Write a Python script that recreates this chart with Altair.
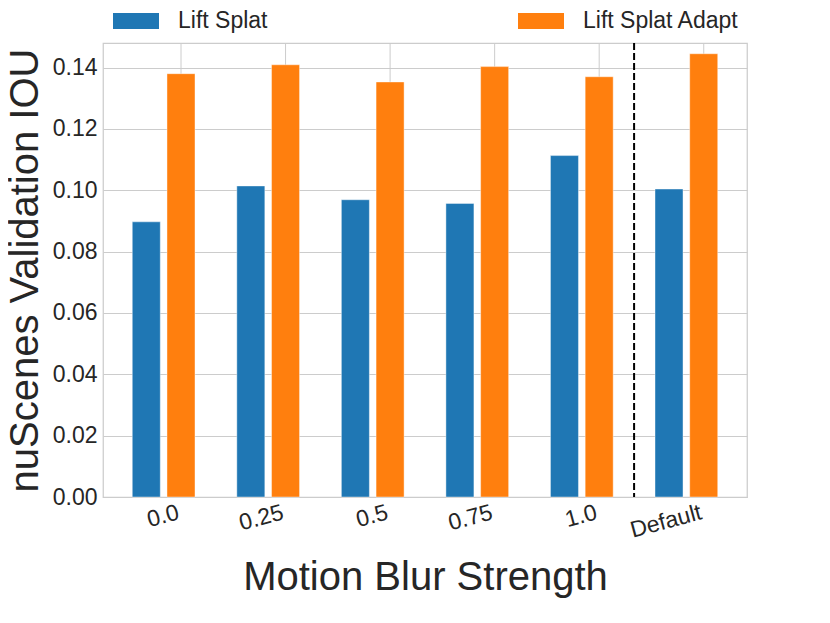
import altair as alt
import pandas as pd

categories = ["0.0", "0.25", "0.5", "0.75", "1.0", "Default"]
series = ["Lift Splat", "Lift Splat Adapt"]
lift_splat = [0.0897, 0.1014, 0.0969, 0.0957, 0.1113, 0.1004]
lift_splat_adapt = [0.1380, 0.1409, 0.1353, 0.1403, 0.1370, 0.1445]
y_ticks = [0.0, 0.02, 0.04, 0.06, 0.08, 0.10, 0.12, 0.14]
colors = ["#1f77b4", "#ff7f0e"]
divider_at = ["Default"]

rows = []
for c, a, b in zip(categories, lift_splat, lift_splat_adapt):
    rows.append({"strength": c, "model": series[0], "iou": a})
    rows.append({"strength": c, "model": series[1], "iou": b})
df = pd.DataFrame(rows)
div = pd.DataFrame({"strength": divider_at})
grid_df = pd.DataFrame({"strength": categories})

FONT = "Liberation Sans"
TXT = "#262626"
W, H = 644, 454
P_IN, P_OUT = 0.4, 0.28
STEP = W / (len(categories) - P_IN + 2 * P_OUT)

x_scale = alt.Scale(domain=categories, paddingInner=P_IN, paddingOuter=P_OUT)
x_axis = alt.Axis(
    grid=False, ticks=False, tickSize=0, domain=False,
    labelAngle=345, labelAlign="right", labelBaseline="top", labelPadding=4,
    labelOffset=12, labelFontSize=23, titleFontSize=40, titleFontWeight="normal",
    titleX=W / 2, titleY=92, titleBaseline="alphabetic", titleAlign="center",
)
x_enc = dict(shorthand="strength:N", scale=x_scale, sort=categories,
             title="Motion Blur Strength", axis=x_axis)

vgrid = alt.Chart(grid_df).mark_rule(color="#cccccc", strokeWidth=1).encode(
    x=alt.X(bandPosition=0.777, **x_enc),
)

bars = alt.Chart(df).mark_bar(stroke="white", strokeWidth=0.6, strokeOpacity=0.7).encode(
    x=alt.X(**x_enc),
    xOffset=alt.XOffset("model:N", sort=series,
                        scale=alt.Scale(domain=series, paddingInner=0.193, paddingOuter=0)),
    y=alt.Y(
        "iou:Q", scale=alt.Scale(domain=[0, 0.148], nice=False), title="nuScenes Validation IOU",
        axis=alt.Axis(
            values=y_ticks, format=".2f", ticks=False, tickSize=0, domain=False,
            labelPadding=6, labelFontSize=23, titleFontSize=40, titleFontWeight="normal",
            titleX=-66, titleY=H / 2, titleAngle=270, titleBaseline="alphabetic",
            titleAlign="center",
        ),
    ),
    color=alt.Color(
        "model:N", sort=series, scale=alt.Scale(domain=series, range=colors),
        legend=alt.Legend(
            title=None, orient="none", legendX=10, legendY=-45, direction="horizontal",
            columns=2, columnPadding=250, labelFontSize=23, labelOffset=19,
            symbolType="M-1,-0.35L1,-0.35L1,0.35L-1,0.35Z", symbolSize=2116,
            symbolStrokeWidth=0, symbolOpacity=1,
        ),
    ),
)

divider = alt.Chart(div).mark_rule(
    color="black", strokeWidth=2, strokeDash=[7, 3], xOffset=-STEP * P_IN / 2
).encode(
    x=alt.X(bandPosition=0, **x_enc),
)

chart = alt.layer(vgrid, bars, divider).properties(
    width=W, height=H, autosize="none",
    padding={"left": 95, "top": 35, "right": 70, "bottom": 120},
).configure_view(
    stroke="#cccccc", strokeWidth=1.25,
).configure_axis(
    labelFont=FONT, titleFont=FONT, labelColor=TXT, titleColor=TXT,
    gridColor="#cccccc", gridWidth=1, gridOpacity=1,
).configure_legend(
    labelFont=FONT, labelColor=TXT,
)

chart.save("out.html", embed_options={"renderer": "svg", "actions": False})
